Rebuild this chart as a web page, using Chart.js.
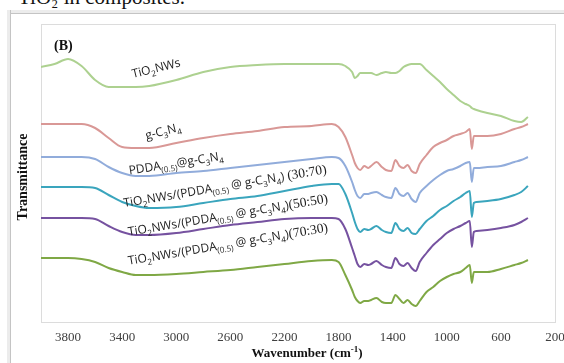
<!DOCTYPE html>
<html>
<head>
<meta charset="utf-8">
<script src="https://cdn.jsdelivr.net/npm/chart.js@4"></script>
<style>
  html, body { margin: 0; padding: 0; background: #fff; width: 564px; height: 363px; overflow: hidden; }
  #caption { position: absolute; left: 18px; top: -13px; font: 21px "Liberation Serif", serif; color: #111; white-space: nowrap; line-height: 1; }
  .frame-top { position: absolute; left: 7px; top: 10px; width: 557px; height: 3px; background: #ececec; border-bottom: 1px solid #c4c4c4; }
  .frame-left { position: absolute; left: 7px; top: 10px; width: 3px; height: 353px; background: #ececec; border-right: 1px solid #c4c4c4; }
  #chart { position: absolute; left: 0; top: 0; }
</style>
</head>
<body>
<div id="caption">TiO₂ in composites.</div>
<div class="frame-top"></div>
<div class="frame-left"></div>
<canvas id="chart" width="600" height="363" style="width:600px;height:363px"></canvas>
<script>
// wavenumber grid (cm-1) shared by all spectra
const wavenumbers = [4000, 3900, 3800, 3700, 3600, 3500, 3400, 3300, 3200, 3000, 2800, 2600, 2400, 2200, 2000, 1850, 1800, 1750, 1700, 1680, 1660, 1640, 1610, 1580, 1560, 1520, 1480, 1450, 1410, 1380, 1350, 1320, 1290, 1260, 1230, 1200, 1150, 1100, 1050, 1000, 950, 900, 860, 830, 815, 800, 780, 700, 600, 500, 450, 400];

// transmittance, offset curves (a.u.)
const tio2NWs = [255, 258, 263, 256, 242, 235, 235, 235, 236, 242, 250, 255, 257, 258, 258, 258, 258, 256, 250, 244, 246, 249, 249, 249, 249, 247, 249, 250, 249, 249, 251, 255, 257, 258, 258, 258, 252, 246, 240, 233, 227, 221, 218, 216, 214, 213, 212, 209, 206, 201, 200, 205];
const gC3N4 = [198, 198, 198, 198, 194, 184, 175, 174, 174, 179, 184, 188, 191, 195, 196, 198, 195, 185, 167, 159, 154, 152, 156, 154, 156, 160, 155, 152, 151, 162, 156, 154, 157, 151, 149, 158, 167, 175, 179, 182, 186, 188, 190, 193, 173, 186, 186, 186, 188, 193, 195, 198];
const pddaGC3N4 = [165, 165, 165, 165, 163, 155, 149, 146, 146, 149, 151, 154, 157, 160, 163, 165, 164, 156, 140, 132, 126, 124, 128, 128, 129, 130, 127, 125, 124, 134, 128, 126, 129, 123, 120, 129, 136, 142, 147, 151, 153, 156, 159, 160, 140, 154, 154, 155, 156, 160, 162, 165];
const ratio3070 = [135, 135, 135, 135, 134, 127, 120, 116, 114, 115, 119, 123, 126, 131, 136, 138, 138, 128, 109, 100, 93, 90, 93, 92, 93, 96, 92, 90, 89, 99, 93, 91, 94, 89, 88, 93, 101, 106, 112, 116, 121, 125, 129, 131, 105, 119, 120, 121, 123, 127, 130, 136];
const ratio5050 = [104, 104, 104, 104, 103, 96, 90, 87, 87, 89, 93, 97, 100, 103, 104, 104, 103, 93, 74, 66, 58, 55, 58, 57, 58, 61, 57, 55, 54, 64, 58, 56, 59, 54, 51, 60, 69, 77, 83, 89, 93, 96, 99, 101, 75, 90, 91, 92, 94, 97, 100, 104];
const ratio7030 = [64, 64, 64, 63, 60, 54, 50, 47, 47, 48, 50, 52, 55, 58, 61, 62, 60, 47, 32, 25, 21, 19, 21, 21, 22, 24, 20, 19, 19, 27, 23, 19, 22, 18, 16, 21, 30, 35, 41, 45, 48, 50, 54, 57, 39, 50, 50, 50, 53, 57, 59, 62];

const xTicks = [3800, 3400, 3000, 2600, 2200, 1800, 1400, 1000, 600, 200];

const series = [
  { name: 'TiO2NWs', values: tio2NWs, color: '#add190' },
  { name: 'g-C3N4', values: gC3N4, color: '#d99896' },
  { name: 'PDDA(0.5)@g-C3N4', values: pddaGC3N4, color: '#91acdb' },
  { name: '30:70', values: ratio3070, color: '#3aa5bd' },
  { name: '50:50', values: ratio5050, color: '#7652a0' },
  { name: '70:30', values: ratio7030, color: '#7fa845' }
];

const curveLabels = [
  { parts: [['TiO'], ['2', 'sub'], ['NWs']], x: 156, y: 68, rot: -14 },
  { parts: [['g-C'], ['3', 'sub'], ['N'], ['4', 'sub']], x: 163, y: 131, rot: -14 },
  { parts: [['PDDA'], ['(0.5)', 'sub'], ['@g-C'], ['3', 'sub'], ['N'], ['4', 'sub']], x: 176, y: 163, rot: -9 },
  { parts: [['TiO'], ['2', 'sub'], ['NWs/(PDDA'], ['(0.5)', 'sub'], [' @ g-C'], ['3', 'sub'], ['N'], ['4', 'sub'], [') '], ['(30:70)', 'serif']], x: 225, y: 186, rot: -9.5 },
  { parts: [['TiO'], ['2', 'sub'], ['NWs/(PDDA'], ['(0.5)', 'sub'], [' @ g-C'], ['3', 'sub'], ['N'], ['4', 'sub'], [')'], ['(50:50)', 'serif']], x: 228, y: 215, rot: -9.5 },
  { parts: [['TiO'], ['2', 'sub'], ['NWs/(PDDA'], ['(0.5)', 'sub'], [' @ g-C'], ['3', 'sub'], ['N'], ['4', 'sub'], [')'], ['(70:30)', 'serif']], x: 228, y: 244, rot: -9.5 }
];

function drawRich(ctx, parts, cx, cy, deg, size) {
  const fontFor = k => k === 'sub' ? `${size * 0.68}px "Open Sans"` : k === 'serif' ? `${size + 1.5}px "Liberation Serif"` : `${size}px "Open Sans"`;
  let w = 0;
  parts.forEach(([t, k]) => { ctx.font = fontFor(k); w += ctx.measureText(t).width; });
  ctx.save();
  ctx.translate(cx, cy);
  ctx.rotate(deg * Math.PI / 180);
  ctx.textBaseline = 'alphabetic';
  ctx.textAlign = 'left';
  ctx.fillStyle = '#1e1e1e';
  let x = -w / 2;
  const base = size * 0.35;
  parts.forEach(([t, k]) => {
    ctx.font = fontFor(k);
    ctx.fillText(t, x, k === 'sub' ? base + size * 0.28 : base);
    x += ctx.measureText(t).width;
  });
  ctx.restore();
}

const decor = {
  id: 'decor',
  beforeDatasetsDraw(chart) {
    const { ctx, chartArea: a } = chart;
    ctx.save();
    ctx.strokeStyle = '#dcdcdc';
    ctx.lineWidth = 1;
    ctx.strokeRect(Math.round(a.left) + 0.5, Math.round(a.top) + 0.5, Math.round(a.right - a.left), Math.round(a.bottom - a.top));
    ctx.restore();
  },
  afterDraw(chart) {
    const { ctx } = chart;
    ctx.save();
    ctx.fillStyle = '#111';
    ctx.font = 'bold 14px "Liberation Serif"';
    ctx.textBaseline = 'alphabetic';
    ctx.fillText('(B)', 54, 50);

    // y title
    ctx.save();
    ctx.translate(27, 177);
    ctx.rotate(-Math.PI / 2);
    ctx.textAlign = 'center';
    ctx.fillText('Transmittance', 0, 0);
    ctx.restore();

    // x title with superscript
    const main = 'Wavenumber (cm';
    const sup = '-1';
    const tail = ')';
    ctx.font = 'bold 13px "Liberation Serif"';
    const w1 = ctx.measureText(main).width;
    const w3 = ctx.measureText(tail).width;
    ctx.font = 'bold 9px "Liberation Serif"';
    const w2 = ctx.measureText(sup).width;
    let x = 307 - (w1 + w2 + w3) / 2;
    const y = 357;
    ctx.font = 'bold 13px "Liberation Serif"';
    ctx.fillText(main, x, y);
    x += w1;
    ctx.font = 'bold 9px "Liberation Serif"';
    ctx.fillText(sup, x, y - 5);
    x += w2;
    ctx.font = 'bold 13px "Liberation Serif"';
    ctx.fillText(tail, x, y);
    ctx.restore();

    curveLabels.forEach(l => drawRich(ctx, l.parts, l.x, l.y, l.rot, 12));
  }
};

new Chart(document.getElementById('chart'), {
  type: 'line',
  data: {
    datasets: series.map(s => ({
      label: s.name,
      data: wavenumbers.map((w, i) => ({ x: w, y: s.values[i] })),
      borderColor: s.color,
      borderWidth: 2,
      pointRadius: 0,
      fill: false,
      cubicInterpolationMode: 'monotone'
    }))
  },
  options: {
    responsive: false,
    animation: false,
    devicePixelRatio: 1,
    layout: { padding: { left: 41, top: 24, right: 45, bottom: 0 } },
    plugins: {
      legend: { display: false },
      tooltip: { enabled: false }
    },
    scales: {
      x: {
        type: 'linear',
        reverse: true,
        min: 200,
        max: 4000,
        afterBuildTicks: scale => { scale.ticks = xTicks.map(v => ({ value: v })); },
        afterFit: scale => { scale.height = 41; },
        ticks: {
          font: { family: 'Liberation Serif', size: 13 },
          color: '#404040',
          padding: 8,
          maxRotation: 0,
          autoSkip: false,
          callback: v => String(v)
        },
        grid: { display: false, drawTicks: false },
        border: { display: false }
      },
      y: {
        display: false,
        min: 0,
        max: 298
      }
    }
  },
  plugins: [decor]
});
</script>
</body>
</html>
